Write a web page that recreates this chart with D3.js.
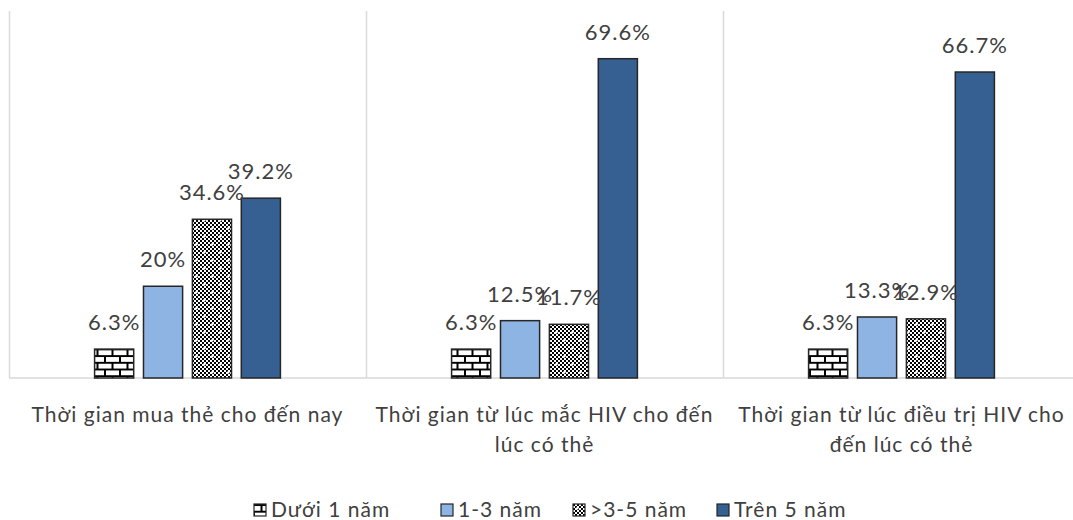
<!DOCTYPE html>
<html>
<head>
<meta charset="utf-8">
<script src="https://cdn.jsdelivr.net/npm/d3@7"></script>
<style>
  body { margin: 0; background: #fff; }
  text { font-family: Lato, "Liberation Sans", Arial, sans-serif; fill: #404040; letter-spacing: 1px; }
</style>
</head>
<body>
<div id="chart"></div>
<script>
// Data
const categories = [
    ['Thời gian mua thẻ cho đến nay'],
    ['Thời gian từ lúc mắc HIV cho đến', 'lúc có thẻ'],
    ['Thời gian từ lúc điều trị HIV cho', 'đến lúc có thẻ']
];
const seriesNames = ['Dưới 1 năm', '1-3 năm', '>3-5 năm', 'Trên 5 năm'];
const duoi1 = [6.3, 6.3, 6.3];
const tu1den3 = [20, 12.5, 13.3];
const tu3den5 = [34.6, 11.7, 12.9];
const tren5 = [39.2, 69.6, 66.7];
const labels = [
    ['6.3%', '20%', '34.6%', '39.2%'],
    ['6.3%', '12.5%', '11.7%', '69.6%'],
    ['6.3%', '13.3%', '12.9%', '66.7%']
];

const width = 1073;
const height = 520;
const margin = { top: 11, right: -7, bottom: 142, left: 9 };
const fills = ['url(#brick)', '#8eb4e3', 'url(#checker)', '#366092'];
const seriesValues = [duoi1, tu1den3, tu3den5, tren5];

const svg = d3.select('#chart').append('svg')
    .attr('width', width)
    .attr('height', height);

// Patterns for the hatched bars
const defs = svg.append('defs');
const brick = defs.append('pattern')
    .attr('id', 'brick')
    .attr('patternUnits', 'userSpaceOnUse')
    .attr('width', 15)
    .attr('height', 13.4)
    .attr('y', 1);
brick.append('rect').attr('width', 15).attr('height', 13.4).attr('fill', '#fff');
brick.append('path')
    .attr('d', 'M0,0H15M0,6.7H15M0,13.4H15M7.5,0V6.7M0,6.7V13.4M15,6.7V13.4')
    .attr('stroke', '#000')
    .attr('stroke-width', 2);

const checker = defs.append('pattern')
    .attr('id', 'checker')
    .attr('patternUnits', 'userSpaceOnUse')
    .attr('width', 16)
    .attr('height', 16);
checker.append('rect').attr('width', 16).attr('height', 16).attr('fill', '#fff');
for (let i = 0; i < 8; i++) {
    for (let j = 0; j < 8; j++) {
        if ((i + j) % 2 === 0) {
            checker.append('rect')
                .attr('x', i * 2).attr('y', j * 2)
                .attr('width', 2).attr('height', 2)
                .attr('fill', '#000');
        }
    }
}
checker.append('path')
    .attr('d', 'M3,4H6M4.5,2.5V5.5M11,12H14M12.5,10.5V13.5')
    .attr('stroke', '#fff')
    .attr('stroke-width', 1.2);

// Scales
const x0 = d3.scaleBand()
    .domain(d3.range(categories.length))
    .range([margin.left, width - margin.right])
    .paddingInner(0)
    .paddingOuter(0);

const x1 = d3.scaleBand()
    .domain(d3.range(seriesNames.length))
    .range([0, x0.bandwidth()])
    .paddingInner(0.2)
    .paddingOuter(1.75);

const y = d3.scaleLinear()
    .domain([0, 80])
    .range([height - margin.bottom, margin.top]);

// Vertical grid lines between categories
svg.append('g')
    .selectAll('line')
    .data(d3.range(categories.length))
    .enter().append('line')
    .attr('x1', d => x0(d) + 0.5)
    .attr('x2', d => x0(d) + 0.5)
    .attr('y1', y(80))
    .attr('y2', y(0))
    .attr('stroke', '#d9d9d9')
    .attr('stroke-width', 1.5);

// Baseline
svg.append('line')
    .attr('x1', margin.left)
    .attr('x2', width)
    .attr('y1', y(0))
    .attr('y2', y(0))
    .attr('stroke', '#d9d9d9')
    .attr('stroke-width', 1.5);

// Bars
const bars = [];
categories.forEach((c, ci) => {
    seriesValues.forEach((vals, si) => {
        bars.push({ ci, si, value: vals[ci], label: labels[ci][si] });
    });
});

svg.selectAll('.bar')
    .data(bars)
    .enter().append('rect')
    .attr('class', 'bar')
    .attr('x', d => x0(d.ci) + x1(d.si))
    .attr('y', d => y(d.value))
    .attr('width', x1.bandwidth())
    .attr('height', d => y(0) - y(d.value))
    .attr('fill', d => fills[d.si])
    .attr('stroke', '#262626')
    .attr('stroke-width', 1.5);

// Value labels
svg.selectAll('.val')
    .data(bars)
    .enter().append('text')
    .attr('class', 'val')
    .attr('x', d => x0(d.ci) + x1(d.si) + x1.bandwidth() / 2)
    .attr('y', d => y(d.value) - 19)
    .attr('text-anchor', 'middle')
    .style('font-size', '22px')
    .text(d => d.label);

// Category labels
const catG = svg.selectAll('.cat')
    .data(categories)
    .enter().append('text')
    .attr('class', 'cat')
    .attr('x', (d, i) => x0(i) + x0.bandwidth() / 2)
    .attr('y', 422)
    .attr('text-anchor', 'middle')
    .style('font-size', '21px');
catG.selectAll('tspan')
    .data(d => d)
    .enter().append('tspan')
    .attr('x', function () { return d3.select(this.parentNode).attr('x'); })
    .attr('dy', (d, i) => i === 0 ? 0 : 30)
    .text(d => d);

// Legend
const legendX = [254, 441, 573, 717];
const legend = svg.selectAll('.legend')
    .data(seriesNames)
    .enter().append('g')
    .attr('class', 'legend')
    .attr('transform', (d, i) => `translate(${legendX[i]}, 504)`);
legend.append('rect')
    .attr('width', 12)
    .attr('height', 12)
    .attr('fill', (d, i) => fills[i])
    .attr('stroke', '#262626')
    .attr('stroke-width', 1.2);
legend.append('text')
    .attr('x', 17)
    .attr('y', 13)
    .style('font-size', '21px')
    .text(d => d);
</script>
</body>
</html>
